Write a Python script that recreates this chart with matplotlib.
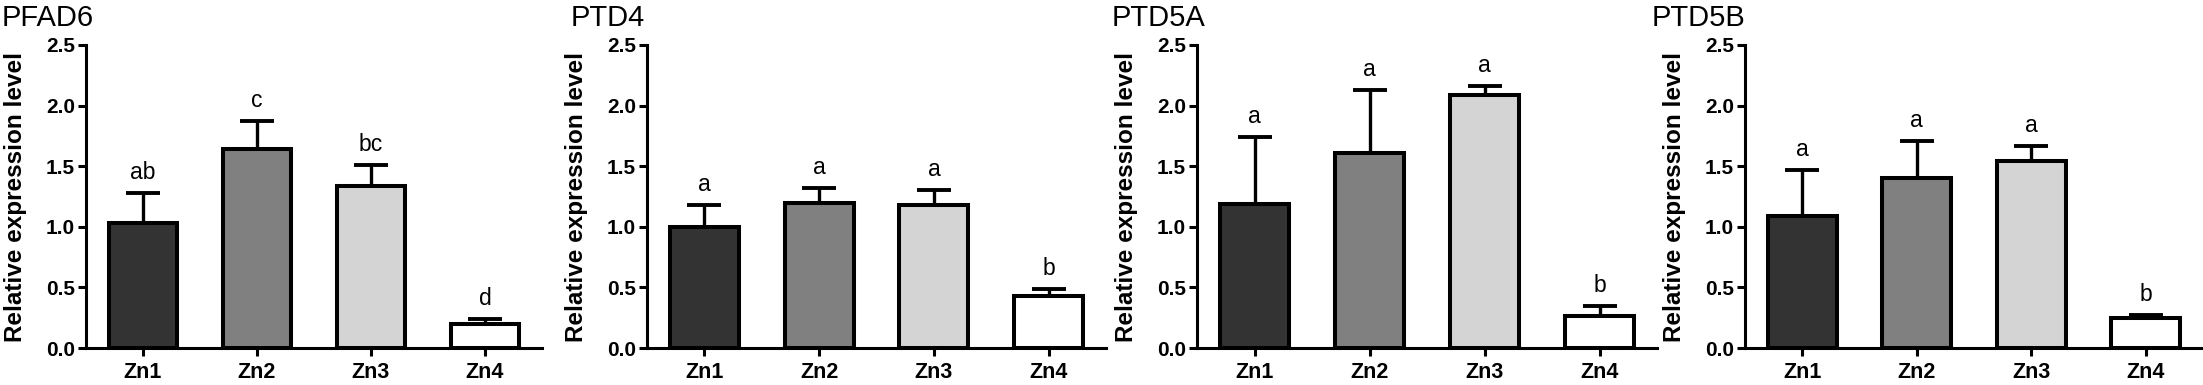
import matplotlib
matplotlib.use("Agg")
import matplotlib.pyplot as plt

plt.rcParams['font.family'] = ['Liberation Sans', 'DejaVu Sans']

groups = ["Zn1", "Zn2", "Zn3", "Zn4"]
titles = ["PFAD6", "PTD4", "PTD5A", "PTD5B"]

pfad6_mean = [1.03, 1.64, 1.34, 0.20]
pfad6_err = [0.25, 0.23, 0.17, 0.04]
pfad6_sig = ["ab", "c", "bc", "d"]

ptd4_mean = [1.00, 1.20, 1.18, 0.43]
ptd4_err = [0.18, 0.12, 0.12, 0.06]
ptd4_sig = ["a", "a", "a", "b"]

ptd5a_mean = [1.19, 1.61, 2.09, 0.26]
ptd5a_err = [0.55, 0.52, 0.07, 0.09]
ptd5a_sig = ["a", "a", "a", "b"]

ptd5b_mean = [1.09, 1.40, 1.54, 0.25]
ptd5b_err = [0.38, 0.31, 0.13, 0.02]
ptd5b_sig = ["a", "a", "a", "b"]

means = [pfad6_mean, ptd4_mean, ptd5a_mean, ptd5b_mean]
errs = [pfad6_err, ptd4_err, ptd5a_err, ptd5b_err]
sigs = [pfad6_sig, ptd4_sig, ptd5a_sig, ptd5b_sig]

bar_colors = ["#333333", "#808080", "#d4d4d4", "#ffffff"]
yticks = [0.0, 0.5, 1.0, 1.5, 2.0, 2.5]

W, H = 2203, 385
fig = plt.figure(figsize=(W / 100, H / 100), dpi=100)

lefts = [86, 647, 1197, 1745]
rights = [542, 1106, 1657, 2203]
title_x = [2, 571, 1112, 1652]
bottom_px, top_px = 348, 45

for k in range(4):
    l, r = lefts[k], rights[k]
    ax = fig.add_axes([l / W, 1 - bottom_px / H, (r - l) / W, (bottom_px - top_px) / H])
    x = list(range(len(groups)))
    ax.bar(x, means[k], width=0.6, color=bar_colors, edgecolor="black",
           linewidth=2.9, zorder=3)
    ax.errorbar(x, means[k], yerr=[[0] * 4, errs[k]], fmt="none", ecolor="black",
                elinewidth=2.4, capsize=12.5, capthick=2.8, zorder=2)
    for i in range(4):
        ax.annotate(sigs[k][i], (x[i], means[k][i] + errs[k][i]), xytext=(0, 6.5),
                    textcoords="offset points", ha="center", va="bottom",
                    fontsize=16.5)
    ax.set_xlim(-0.5, 3.5)
    ax.set_ylim(0, 2.5)
    ax.set_yticks(yticks)
    ax.set_yticklabels([f"{v:.1f}" for v in yticks], fontsize=15, fontweight="bold")
    ax.set_xticks(x)
    ax.set_xticklabels(groups, fontsize=15.5, fontweight="bold")
    for s in ["top", "right"]:
        ax.spines[s].set_visible(False)
    for s in ["left", "bottom"]:
        ax.spines[s].set_linewidth(2.2)
    ax.tick_params(axis="y", length=6, width=2.2, pad=2)
    ax.tick_params(axis="x", length=6, width=2.2, pad=4)
    ax.set_ylabel("Relative expression level", fontsize=17.5, fontweight="bold")
    ax.yaxis.set_label_coords(-59 / (r - l), 0.5)
    fig.text(title_x[k] / W, 1 - 26 / H, titles[k], fontsize=21, ha="left",
             va="baseline")

fig.savefig("out.png", dpi=100)
